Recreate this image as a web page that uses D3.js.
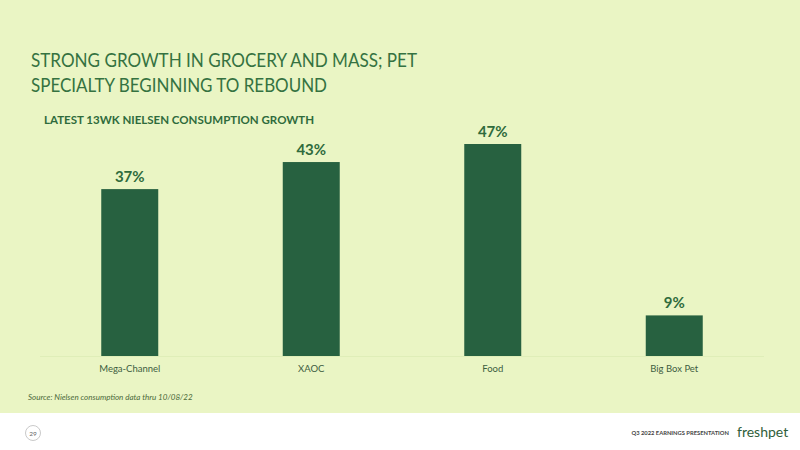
<!DOCTYPE html>
<html>
<head>
<meta charset="utf-8">
<script src="https://cdn.jsdelivr.net/npm/d3@7"></script>
<style>
  body { margin: 0; background: #fff; }
  svg { display: block; font-family: Lato, "Open Sans", sans-serif; }
</style>
</head>
<body>
<script>
const categories = ["Mega-Channel", "XAOC", "Food", "Big Box Pet"];
const growth = [37, 43, 47, 9];
const titleLines = ["STRONG GROWTH IN GROCERY AND MASS; PET", "SPECIALTY BEGINNING TO REBOUND"];
const titleWidths = [386, 296];

const width = 800, height = 450;
const green = "#276140";
const textGreen = "#2f6b3c";

const svg = d3.select("body").append("svg")
  .attr("width", width).attr("height", height);

// slide background + footer
svg.append("rect").attr("width", width).attr("height", 413).attr("fill", "#eaf5c4");
svg.append("rect").attr("y", 413).attr("width", width).attr("height", 37).attr("fill", "#ffffff");

// title (narrow Calibri-like look)
svg.append("g").selectAll("text").data(titleLines).enter().append("text")
  .attr("x", 31).attr("y", (d, i) => 67 + i * 25)
  .attr("fill", "#357241").attr("font-size", 19.5)
  .attr("textLength", (d, i) => titleWidths[i])
  .attr("lengthAdjust", "spacingAndGlyphs")
  .text(d => d);

svg.append("text").attr("x", 44).attr("y", 124)
  .attr("fill", textGreen).attr("font-size", 11.5).attr("font-weight", "bold")
  .text("LATEST 13WK NIELSEN CONSUMPTION GROWTH");

// scales
const baseline = 356;
const x = d3.scaleBand().domain(categories).range([39, 765]).paddingInner(0.686).paddingOuter(0.343);
const y = d3.scaleLinear().domain([0, 47]).range([baseline, 144]);

const g = svg.append("g");

g.append("line").attr("x1", 40).attr("x2", 764)
  .attr("y1", baseline + 0.5).attr("y2", baseline + 0.5)
  .attr("stroke", "#dfeeb8").attr("stroke-width", 1);

g.selectAll(".bar").data(growth).enter().append("rect")
  .attr("class", "bar")
  .attr("x", (d, i) => x(categories[i]))
  .attr("width", x.bandwidth())
  .attr("y", d => y(d))
  .attr("height", d => baseline - y(d))
  .attr("fill", green);

g.selectAll(".val").data(growth).enter().append("text")
  .attr("x", (d, i) => x(categories[i]) + x.bandwidth() / 2)
  .attr("y", d => y(d) - 7)
  .attr("text-anchor", "middle")
  .attr("fill", textGreen).attr("font-size", 15).attr("font-weight", "bold")
  .text(d => d + "%");

const xAxis = g.append("g").attr("transform", "translate(0," + baseline + ")")
  .call(d3.axisBottom(x).tickSize(0).tickPadding(9));
xAxis.select(".domain").remove();
xAxis.selectAll("text").attr("fill", "#3d5d3f").attr("font-size", 9.5)
  .attr("font-family", "Lato, sans-serif");

// source
svg.append("text").attr("x", 28).attr("y", 400)
  .attr("fill", "#4a6a3a").attr("font-size", 8).attr("font-style", "italic")
  .text("Source: Nielsen consumption data thru 10/08/22");

// footer
svg.append("circle").attr("cx", 33).attr("cy", 433).attr("r", 7.5)
  .attr("fill", "none").attr("stroke", "#bbb").attr("stroke-width", 0.8);
svg.append("text").attr("x", 33).attr("y", 435.5).attr("text-anchor", "middle")
  .attr("font-size", 6.5).attr("fill", "#666").text("29");
svg.append("text").attr("x", 729).attr("y", 435).attr("text-anchor", "end")
  .attr("font-size", 5.8).attr("font-weight", "bold").attr("fill", "#444")
  .text("Q3 2022 EARNINGS PRESENTATION");
svg.append("text").attr("x", 737).attr("y", 437)
  .attr("font-size", 14).attr("fill", "#2f5e3a")
  .text("freshpet");
</script>
</body>
</html>
